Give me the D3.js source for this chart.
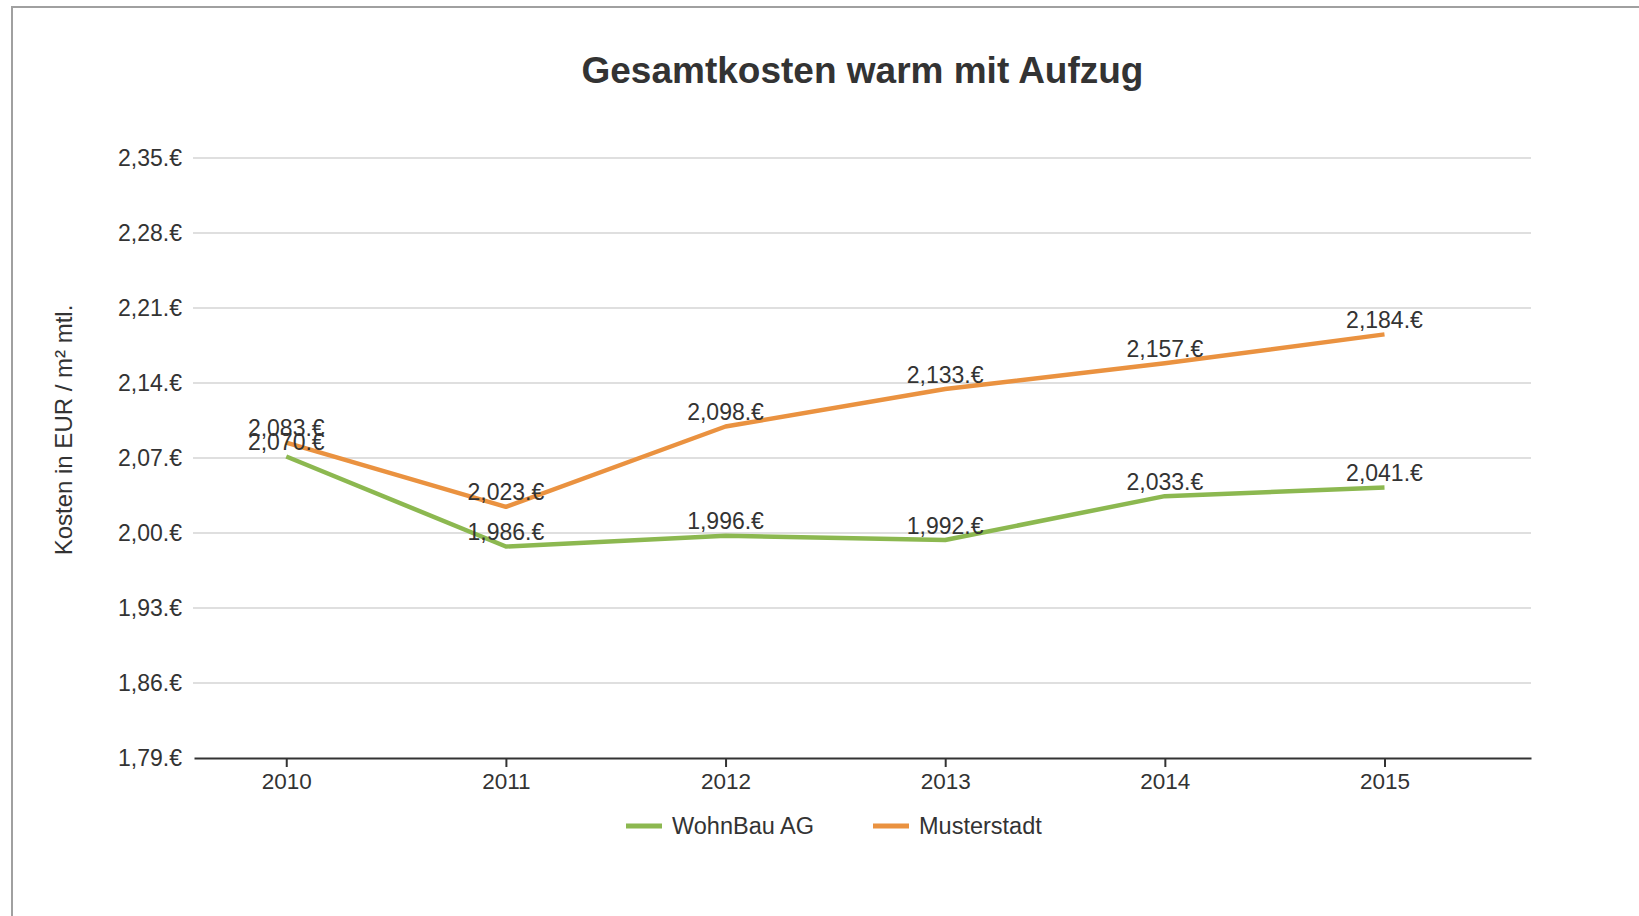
<!DOCTYPE html>
<html>
<head>
<meta charset="utf-8">
<script src="https://cdn.jsdelivr.net/npm/d3@7"></script>
<style>
  body { margin: 0; background: #fff; }
  text { font-family: "Liberation Sans", Arial, sans-serif; fill: #333; }
</style>
</head>
<body>
<div id="chart"></div>
<script>
// Data
var years = [2010, 2011, 2012, 2013, 2014, 2015];
var wohnbau = [2.070, 1.986, 1.996, 1.992, 2.033, 2.041];
var musterstadt = [2.083, 2.023, 2.098, 2.133, 2.157, 2.184];
var yTicks = [1.79, 1.86, 1.93, 2.00, 2.07, 2.14, 2.21, 2.28, 2.35];
var seriesNames = ["WohnBau AG", "Musterstadt"];
var seriesColors = ["#8cb850", "#ea9240"];

var svgWidth = 1639;
var svgHeight = 916;

var plot = { left: 194, right: 1531, top: 158, bottom: 758 };

var svg = d3.select("#chart")
            .append("svg")
            .attr("width", svgWidth)
            .attr("height", svgHeight);

// frame (only top and left edges visible)
svg.append("rect")
   .attr("x", 12).attr("y", 7)
   .attr("width", svgWidth + 20).attr("height", svgHeight + 20)
   .attr("fill", "none")
   .attr("stroke", "#a0a0a0")
   .attr("stroke-width", 2);

// scales
var xScale = d3.scaleLinear()
    .domain([years[0] - 0.42, years[years.length - 1] + 0.667])
    .range([plot.left, plot.right]);

var yScale = d3.scaleLinear()
    .domain([yTicks[0], yTicks[yTicks.length - 1]])
    .range([plot.bottom, plot.top]);

var fmt = function(v, digits) {
    return v.toFixed(digits).replace(".", ",") + ".€";
};

// gridlines
svg.append("g")
   .selectAll("line")
   .data(yTicks.slice(1))
   .enter()
   .append("line")
   .attr("x1", plot.left - 1)
   .attr("x2", plot.right)
   .attr("y1", d => yScale(d))
   .attr("y2", d => yScale(d))
   .attr("stroke", "#d4d4d4")
   .attr("stroke-width", 1.5);

// y axis labels
var leftAxis = d3.axisLeft(yScale)
    .tickValues(yTicks)
    .tickSize(0)
    .tickPadding(12)
    .tickFormat(d => fmt(d, 2));

var yAxisG = svg.append("g")
   .attr("transform", `translate(${plot.left}, 0)`)
   .call(leftAxis);
yAxisG.select(".domain").remove();
yAxisG.selectAll("text")
   .attr("font-size", 23)
   .attr("fill", "#333")
   .style("font-family", "'Liberation Sans', Arial, sans-serif");

// x axis
var bottomAxis = d3.axisBottom(xScale)
    .tickValues(years)
    .tickSize(9)
    .tickSizeOuter(0)
    .tickPadding(6)
    .tickFormat(d3.format("d"));

var xAxisG = svg.append("g")
   .attr("transform", `translate(0, ${plot.bottom})`)
   .call(bottomAxis);
xAxisG.select(".domain").attr("stroke", "#333").attr("stroke-width", 2);
xAxisG.selectAll(".tick line").attr("stroke", "#333").attr("stroke-width", 2);
xAxisG.selectAll("text")
   .attr("font-size", 22.5)
   .attr("fill", "#333")
   .style("font-family", "'Liberation Sans', Arial, sans-serif");

// lines
var line = d3.line()
    .x((d, i) => xScale(years[i]))
    .y(d => yScale(d) - 1.5);

[wohnbau, musterstadt].forEach(function(series, s) {
    svg.append("path")
       .datum(series)
       .attr("d", line)
       .attr("fill", "none")
       .attr("stroke", seriesColors[s])
       .attr("stroke-width", 4.5)
       .attr("stroke-linejoin", "round");
});

// value labels
[wohnbau, musterstadt].forEach(function(series) {
    svg.append("g")
       .selectAll("text")
       .data(series)
       .enter()
       .append("text")
       .attr("x", (d, i) => xScale(years[i]))
       .attr("y", d => yScale(d) - 8)
       .attr("text-anchor", "middle")
       .attr("font-size", 23)
       .text(d => fmt(d, 3));
});

// title
svg.append("text")
   .attr("x", (plot.left + plot.right) / 2)
   .attr("y", 83)
   .attr("text-anchor", "middle")
   .attr("font-size", 37)
   .attr("font-weight", "bold")
   .text("Gesamtkosten warm mit Aufzug");

// y title
svg.append("text")
   .attr("transform", "translate(72, 430) rotate(-90)")
   .attr("text-anchor", "middle")
   .attr("font-size", 24)
   .text("Kosten in EUR / m² mtl.");

// legend
var legendX = [626, 873];
seriesNames.forEach(function(name, i) {
    var g = svg.append("g").attr("transform", `translate(${legendX[i]}, 826)`);
    g.append("line")
     .attr("x1", 0).attr("x2", 36)
     .attr("y1", 0).attr("y2", 0)
     .attr("stroke", seriesColors[i])
     .attr("stroke-width", 5);
    g.append("text")
     .attr("x", 46)
     .attr("y", 8)
     .attr("font-size", 23.5)
     .text(name);
});
</script>
</body>
</html>
